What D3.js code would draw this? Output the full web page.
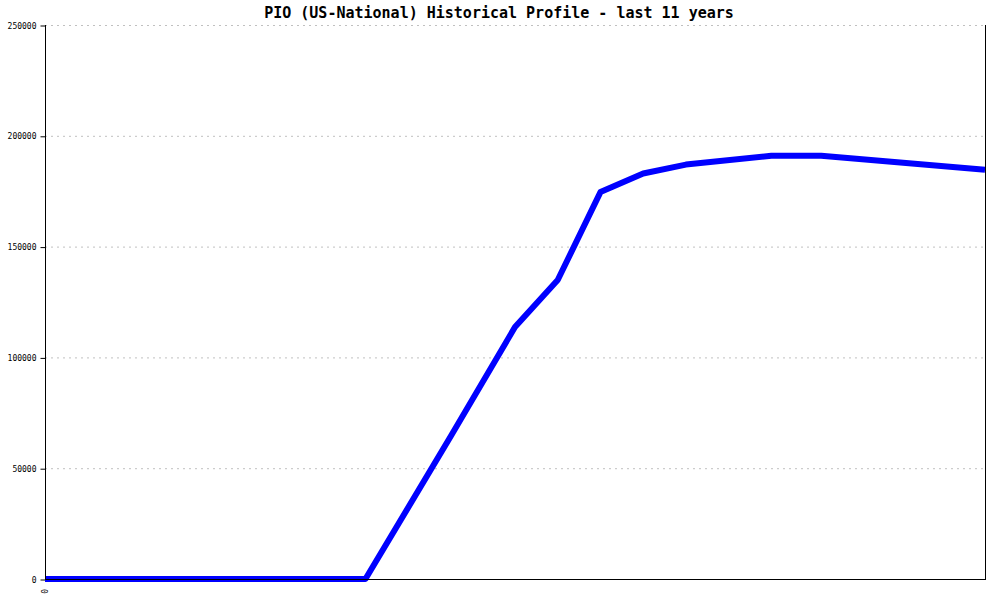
<!DOCTYPE html>
<html>
<head>
<meta charset="utf-8">
<script src="https://cdn.jsdelivr.net/npm/d3@7"></script>
<style>
  html, body { margin: 0; padding: 0; background: #fff; }
  svg { display: block; }
</style>
</head>
<body>
<svg id="chart" width="1000" height="600"></svg>
<script>
// Data (month index from start of 11-year window, value)
const months = [0, 45, 57, 66, 72, 78, 84, 90, 102, 109, 132];
const values = [0, 0, 64500, 113700, 134900, 174600, 183000, 187000, 191000, 191000, 184700];
const yTicks = [0, 50000, 100000, 150000, 200000, 250000];
const xTickLabels = ["0"];
const title = "PIO (US-National) Historical Profile - last 11 years";

(function () {
const svg = d3.select("#chart");
const mLeft = 45, mRight = 985, mTop = 25, mBottom = 579;

const x = d3.scaleLinear().domain([0, 132]).range([mLeft, mRight]);
const y = d3.scaleLinear().domain([0, 250000]).range([mBottom, mTop]);

// gridlines
svg.append("g").selectAll("line").data(yTicks.filter(d => d > 0)).join("line")
  .attr("x1", mLeft).attr("x2", mRight)
  .attr("y1", d => y(d) + 0.5).attr("y2", d => y(d) + 0.5)
  .attr("stroke", "#c0c0c0").attr("stroke-width", 1)
  .attr("stroke-dasharray", "2,4");

// Y axis
const yAxis = d3.axisLeft(y).tickValues(yTicks).tickSize(5).tickPadding(4)
  .tickFormat(d3.format("d"));
const gy = svg.append("g").attr("transform", `translate(${mLeft + 0.5},0.5)`).call(yAxis);
gy.select(".domain").remove();
gy.selectAll("text").attr("font-family", "DejaVu Sans Mono, monospace")
  .attr("font-size", "8px").attr("fill", "#000");
gy.selectAll("line").attr("stroke", "#000");

// X axis label(s)
const gx = svg.append("g");
gx.selectAll("text").data(xTickLabels).join("text")
  .attr("transform", (d, i) => `translate(${x(0) + 3},${mBottom + 10}) rotate(-90)`)
  .attr("text-anchor", "end")
  .attr("font-family", "DejaVu Sans Mono, monospace")
  .attr("font-size", "8px")
  .text(d => d);

// line
const line = d3.line().x((d, i) => x(months[i])).y(d => y(d));
svg.append("path").datum(values)
  .attr("d", line)
  .attr("fill", "none")
  .attr("stroke", "#0000ff")
  .attr("stroke-width", 6)
  .attr("stroke-linejoin", "round");

// frame lines (left, right, bottom)
svg.append("line").attr("x1", mLeft + 0.5).attr("x2", mLeft + 0.5).attr("y1", mTop).attr("y2", mBottom + 1)
  .attr("stroke", "#000");
svg.append("line").attr("x1", mRight + 0.5).attr("x2", mRight + 0.5).attr("y1", mTop).attr("y2", mBottom + 1)
  .attr("stroke", "#000");
svg.append("line").attr("x1", mLeft).attr("x2", mRight + 1).attr("y1", mBottom + 0.5).attr("y2", mBottom + 0.5)
  .attr("stroke", "#000");

// title
svg.append("text")
  .attr("x", 499).attr("y", 18)
  .attr("text-anchor", "middle")
  .attr("font-family", "DejaVu Sans Mono, monospace")
  .attr("font-size", "15px")
  .attr("font-weight", "bold")
  .text(title);
})();
</script>
</body>
</html>
